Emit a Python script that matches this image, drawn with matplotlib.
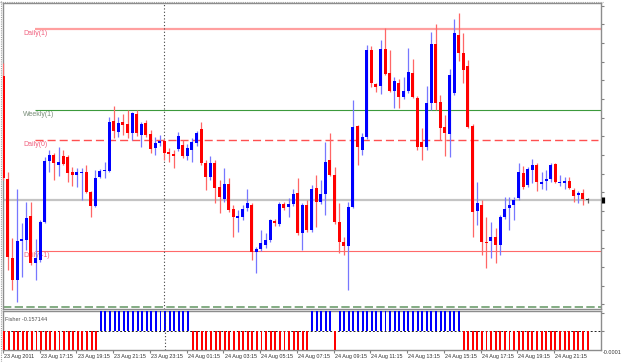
import numpy as np
import matplotlib
matplotlib.use("Agg")
import matplotlib.pyplot as plt

# ---------------- data (EURUSD M15, 23-24 Aug 2011) ----------------
opens = [1.4524, 1.4421, 1.4342, 1.4320, 1.4359, 1.4360, 1.4384, 1.4337, 1.4340, 1.4378,
         1.4439, 1.4445, 1.4435, 1.4444, 1.4443, 1.4428, 1.4425, 1.4427, 1.4428, 1.4408,
         1.4394, 1.4423, 1.4429, 1.4429, 1.4479, 1.4468, 1.4478, 1.4476, 1.4467, 1.4486,
         1.4465, 1.4477, 1.4466, 1.4452, 1.4457, 1.4459, 1.4448, 1.4446, 1.4451, 1.4455,
         1.4444, 1.4450, 1.4457, 1.4471, 1.4437, 1.4423, 1.4437, 1.4413, 1.4401, 1.4416,
         1.4391, 1.4382, 1.4383, 1.4392, 1.4395, 1.4348, 1.4351, 1.4355, 1.4360, 1.4379,
         1.4376, 1.4396, 1.4393, 1.4396, 1.4407, 1.4367, 1.4395, 1.4370, 1.4412, 1.4398,
         1.4406, 1.4440, 1.4425, 1.4378, 1.4358, 1.4354, 1.4393, 1.4474, 1.4450, 1.4463,
         1.4550, 1.4516, 1.4514, 1.4551, 1.4527, 1.4509, 1.4517, 1.4503, 1.4509, 1.4527,
         1.4502, 1.4458, 1.4453, 1.4497, 1.4556, 1.4498, 1.4473, 1.4466, 1.4507, 1.4565,
         1.4547, 1.4534, 1.4474, 1.4389, 1.4395, 1.4358, 1.4359, 1.4363, 1.4355, 1.4383,
         1.4392, 1.4395, 1.4402, 1.4427, 1.4415, 1.4430, 1.4435, 1.4416, 1.4419, 1.4421,
         1.4436, 1.4417, 1.4417, 1.4419, 1.4410, 1.4405, 1.4407, 1.4400]
highs = [1.4537, 1.4428, 1.4362, 1.4411, 1.4377, 1.4398, 1.4398, 1.4361, 1.4380, 1.4443,
         1.4450, 1.4447, 1.4453, 1.4450, 1.4445, 1.4433, 1.4432, 1.4432, 1.4435, 1.4409,
         1.4430, 1.4431, 1.4438, 1.4483, 1.4494, 1.4483, 1.4486, 1.4490, 1.4488, 1.4490,
         1.4478, 1.4480, 1.4470, 1.4463, 1.4465, 1.4461, 1.4452, 1.4450, 1.4468, 1.4460,
         1.4456, 1.4462, 1.4469, 1.4478, 1.4440, 1.4444, 1.4440, 1.4420, 1.4432, 1.4422,
         1.4395, 1.4390, 1.4395, 1.4411, 1.4397, 1.4353, 1.4370, 1.4367, 1.4381, 1.4381,
         1.4398, 1.4398, 1.4402, 1.4411, 1.4422, 1.4397, 1.4400, 1.4415, 1.4425, 1.4420,
         1.4458, 1.4467, 1.4433, 1.4397, 1.4363, 1.4398, 1.4500, 1.4475, 1.4467, 1.4555,
         1.4554, 1.4517, 1.4560, 1.4572, 1.4550, 1.4523, 1.4521, 1.4523, 1.4552, 1.4541,
         1.4504, 1.4472, 1.4514, 1.4568, 1.4576, 1.4505, 1.4485, 1.4531, 1.4581, 1.4587,
         1.4567, 1.4540, 1.4476, 1.4418, 1.4400, 1.4383, 1.4378, 1.4372, 1.4385, 1.4403,
         1.4403, 1.4403, 1.4437, 1.4434, 1.4433, 1.4441, 1.4437, 1.4428, 1.4430, 1.4437,
         1.4437, 1.4425, 1.4423, 1.4423, 1.4412, 1.4409, 1.4411, 1.4402]
lows = [1.4420, 1.4330, 1.4310, 1.4298, 1.4323, 1.4350, 1.4335, 1.4320, 1.4338, 1.4377,
        1.4428, 1.4420, 1.4424, 1.4435, 1.4418, 1.4414, 1.4413, 1.4400, 1.4407, 1.4383,
        1.4393, 1.4422, 1.4422, 1.4428, 1.4462, 1.4463, 1.4465, 1.4462, 1.4460, 1.4464,
        1.4453, 1.4463, 1.4447, 1.4445, 1.4454, 1.4440, 1.4438, 1.4432, 1.4449, 1.4442,
        1.4440, 1.4438, 1.4454, 1.4435, 1.4410, 1.4420, 1.4397, 1.4387, 1.4398, 1.4388,
        1.4363, 1.4368, 1.4380, 1.4389, 1.4340, 1.4327, 1.4349, 1.4352, 1.4358, 1.4374,
        1.4374, 1.4390, 1.4383, 1.4394, 1.4365, 1.4350, 1.4368, 1.4368, 1.4373, 1.4396,
        1.4385, 1.4424, 1.4376, 1.4347, 1.4345, 1.4310, 1.4392, 1.4435, 1.4445, 1.4461,
        1.4513, 1.4508, 1.4506, 1.4525, 1.4508, 1.4492, 1.4492, 1.4501, 1.4507, 1.4502,
        1.4450, 1.4440, 1.4450, 1.4490, 1.4490, 1.4460, 1.4444, 1.4443, 1.4505, 1.4539,
        1.4517, 1.4472, 1.4363, 1.4375, 1.4345, 1.4332, 1.4342, 1.4337, 1.4345, 1.4381,
        1.4370, 1.4380, 1.4400, 1.4411, 1.4413, 1.4417, 1.4409, 1.4411, 1.4410, 1.4418,
        1.4417, 1.4414, 1.4411, 1.4411, 1.4398, 1.4397, 1.4395, 1.4397]
closes = [1.4422, 1.4343, 1.4320, 1.4359, 1.4361, 1.4382, 1.4337, 1.4342, 1.4378, 1.4439,
          1.4445, 1.4437, 1.4438, 1.4436, 1.4427, 1.4425, 1.4428, 1.4428, 1.4408, 1.4394,
          1.4422, 1.4429, 1.4430, 1.4478, 1.4469, 1.4477, 1.4475, 1.4467, 1.4487, 1.4467,
          1.4476, 1.4465, 1.4451, 1.4457, 1.4459, 1.4447, 1.4446, 1.4444, 1.4464, 1.4444,
          1.4452, 1.4458, 1.4467, 1.4437, 1.4423, 1.4437, 1.4412, 1.4403, 1.4416, 1.4390,
          1.4383, 1.4384, 1.4391, 1.4397, 1.4348, 1.4351, 1.4357, 1.4360, 1.4380, 1.4377,
          1.4396, 1.4392, 1.4396, 1.4406, 1.4367, 1.4395, 1.4370, 1.4411, 1.4398, 1.4406,
          1.4438, 1.4425, 1.4378, 1.4358, 1.4354, 1.4393, 1.4473, 1.4453, 1.4463, 1.4550,
          1.4517, 1.4513, 1.4551, 1.4526, 1.4509, 1.4519, 1.4503, 1.4509, 1.4528, 1.4503,
          1.4453, 1.4453, 1.4497, 1.4556, 1.4497, 1.4472, 1.4467, 1.4525, 1.4567, 1.4547,
          1.4530, 1.4473, 1.4388, 1.4397, 1.4358, 1.4357, 1.4363, 1.4355, 1.4383, 1.4391,
          1.4395, 1.4400, 1.4428, 1.4413, 1.4431, 1.4435, 1.4418, 1.4418, 1.4421, 1.4435,
          1.4418, 1.4418, 1.4419, 1.4412, 1.4404, 1.4407, 1.4401, 1.4400]

# Fisher histogram (sign of the indicator per bar; saturates the panel)
fisher = [-1, -1, -1, -1, -1, -1, -1, -1, -1, -1, -1, -1, -1, -1, -1, -1, -1, -1, -1, -1,
          -1, 1, 1, 1, 1, 1, 1, 1, 1, 1, 1, 1, 1, 1, 1, 1, 1, 1, 1, 1,
          1, -1, -1, -1, -1, -1, -1, -1, -1, -1, -1, -1, -1, -1, -1, -1, -1, -1, -1, -1,
          -1, -1, -1, -1, -1, -1, -1, 1, 1, 1, 1, 1, -1, 1, 1, 1, 1, 1, 1, 1,
          1, 1, 1, 1, 1, 1, 1, 1, 1, 1, 1, 1, 1, 1, 1, 1, 1, 1, 1, 1,
          -1, -1, -1, -1, -1, -1, -1, -1, -1, -1, -1, -1, -1, -1, -1, -1, -1, -1, -1, -1,
          -1, -1, -1, -1, -1, -1, -1, -0.157144]
fisher_last = -0.157144

level_names = ["Daily(1)", "Weekly(1)", "Daily(0)", "Daily(-1)"]
level_values = [1.4571, 1.4490, 1.4460, 1.4349]
level_start_bar = 6.9
bid = 1.4400
lower_level = 1.4293
day_separator_bar = 35

time_labels = ["23 Aug 2011", "23 Aug 17:15", "23 Aug 19:15", "23 Aug 21:15", "23 Aug 23:15",
               "24 Aug 01:15", "24 Aug 03:15", "24 Aug 05:15", "24 Aug 07:15", "24 Aug 09:15",
               "24 Aug 11:15", "24 Aug 13:15", "24 Aug 15:15", "24 Aug 17:15", "24 Aug 19:15",
               "24 Aug 21:15"]
label_step = 8

# ---------------- figure ----------------
W, H = 625, 362
fig = plt.figure(figsize=(W / 100, H / 100), dpi=100)
fig.patch.set_facecolor("white")
FONT = ["Liberation Sans", "DejaVu Sans"]

ax = fig.add_axes([3 / W, 1 - 309 / H, 598 / W, 306 / H])
ax2 = fig.add_axes([3 / W, 1 - 350 / H, 598 / W, 39 / H])

n = len(opens)
idx = np.arange(n)
XL = (-0.065, 129.93)

UP, DN = "#0000FF", "#FF0000"
UPW, DNW = "#7777FF", "#FF6666"

# horizontal helper lines (under candles)
ax.axhline(bid, color="#C4C4C4", lw=1.6, zorder=1)
ax.axhline(lower_level, color="#6E9E6E", lw=1.2, ls=(0, (5, 2)), zorder=1)
ax.hlines(level_values[0], level_start_bar, XL[1], color="#FF9F9F", lw=1.6, zorder=1)
ax.hlines(level_values[1], level_start_bar, XL[1], color="#3C9A3C", lw=0.8, zorder=1)
ax.hlines(level_values[2], level_start_bar, XL[1] - 0.6, color="#FF5050", lw=1.0,
          ls=(0, (5.8, 2.9)), zorder=1)
ax.hlines(level_values[3], level_start_bar, XL[1], color="#FF6A6A", lw=0.8, zorder=1)
label_colors = ["#F0607E", "#7A8E7A", "#F0607E", "#F0607E"]
for name, val, col in zip(level_names, level_values, label_colors):
    ax.text(4.3, val - 0.0001, name, fontsize=5.0, color=col, family=FONT,
            ha="left", va="top", zorder=2)

# candles
for i in idx:
    o, h, l, c = opens[i], highs[i], lows[i], closes[i]
    if c > o:
        bc, wc = UP, UPW
    elif c < o:
        bc, wc = DN, DNW
    else:
        bc, wc = "#303030", "#606060"
    ax.vlines(i, l, h, color=wc, lw=0.9, zorder=3)
    ax.bar(i, max(abs(c - o), 0.00006), bottom=min(o, c), width=0.64, color=bc,
           linewidth=0, zorder=4)

ax.axvline(day_separator_bar, color="#404040", lw=0.8, ls=(0, (1, 2)), zorder=2)

ax.set_xlim(*XL)
ax.set_ylim(1.4291, 1.4597)
ax.set_xticks([])
ax.yaxis.tick_right()
ax.set_yticks(np.arange(1.45943, 1.4291, -0.0018667))
ax.tick_params(axis="y", length=2.5, width=0.8, colors="#808080", labelright=False)
for s in ax.spines.values():
    s.set_color("#8C8C8C")
    s.set_linewidth(1.0)
ax.spines["top"].set_linestyle((0, (2, 1)))
ax.set_facecolor("white")

# current price marker on the axis
ax.plot([130.26], [bid], marker="|", ms=3.8, mew=2.3, color="black", clip_on=False, zorder=6)

# ---------------- indicator panel ----------------
cols = [UP if v > 0 else DN for v in fisher]
ax2.bar(idx, fisher, width=0.42, color=cols, linewidth=0, zorder=3)
ax2.axhline(0, color="#202020", lw=0.7, ls=(0, (2, 2)), zorder=2)
ax2.axvline(day_separator_bar, color="#404040", lw=0.8, ls=(0, (1, 2)), zorder=4)
ax2.set_xlim(*XL)
ax2.set_ylim(-0.0001, 0.0001)
ax2.yaxis.tick_right()
ax2.set_yticks([0, 0.00009])
ax2.tick_params(axis="y", length=2.5, width=0.8, colors="#808080", labelright=False)
tick_pos = idx[::label_step][:len(time_labels)]
ax2.set_xticks(tick_pos - 0.3)
ax2.tick_params(axis="x", length=2, width=0.8, colors="#808080", labelbottom=False)
for s in ax2.spines.values():
    s.set_color("#8C8C8C")
    s.set_linewidth(1.0)
ax2.text(0.004, 0.78, "Fisher %.6f" % fisher_last, transform=ax2.transAxes,
         fontsize=4.0, color="#505050", family=FONT, ha="left", va="center")
for p, lab in zip(tick_pos, time_labels):
    ax2.text(p - 0.05, -0.155, lab, transform=ax2.get_xaxis_transform(), fontsize=3.9,
             color="#303030", family=FONT, ha="left", va="center")
fig.text(603 / W, 1 - 352 / H, "-0.0001", fontsize=3.9, color="#303030", family=FONT,
         ha="left", va="center")

# outer frame
fig.add_artist(plt.Line2D([1.5 / W, 1.5 / W], [0, 1], color="#A0A0A0", lw=0.8,
                          ls=(0, (1, 1))))
fig.add_artist(plt.Line2D([0, 603 / W], [1 - 1.5 / H, 1 - 1.5 / H], color="#A0A0A0",
                          lw=0.8, ls=(0, (1, 1))))

fig.savefig("out.png", dpi=100, facecolor="white")
